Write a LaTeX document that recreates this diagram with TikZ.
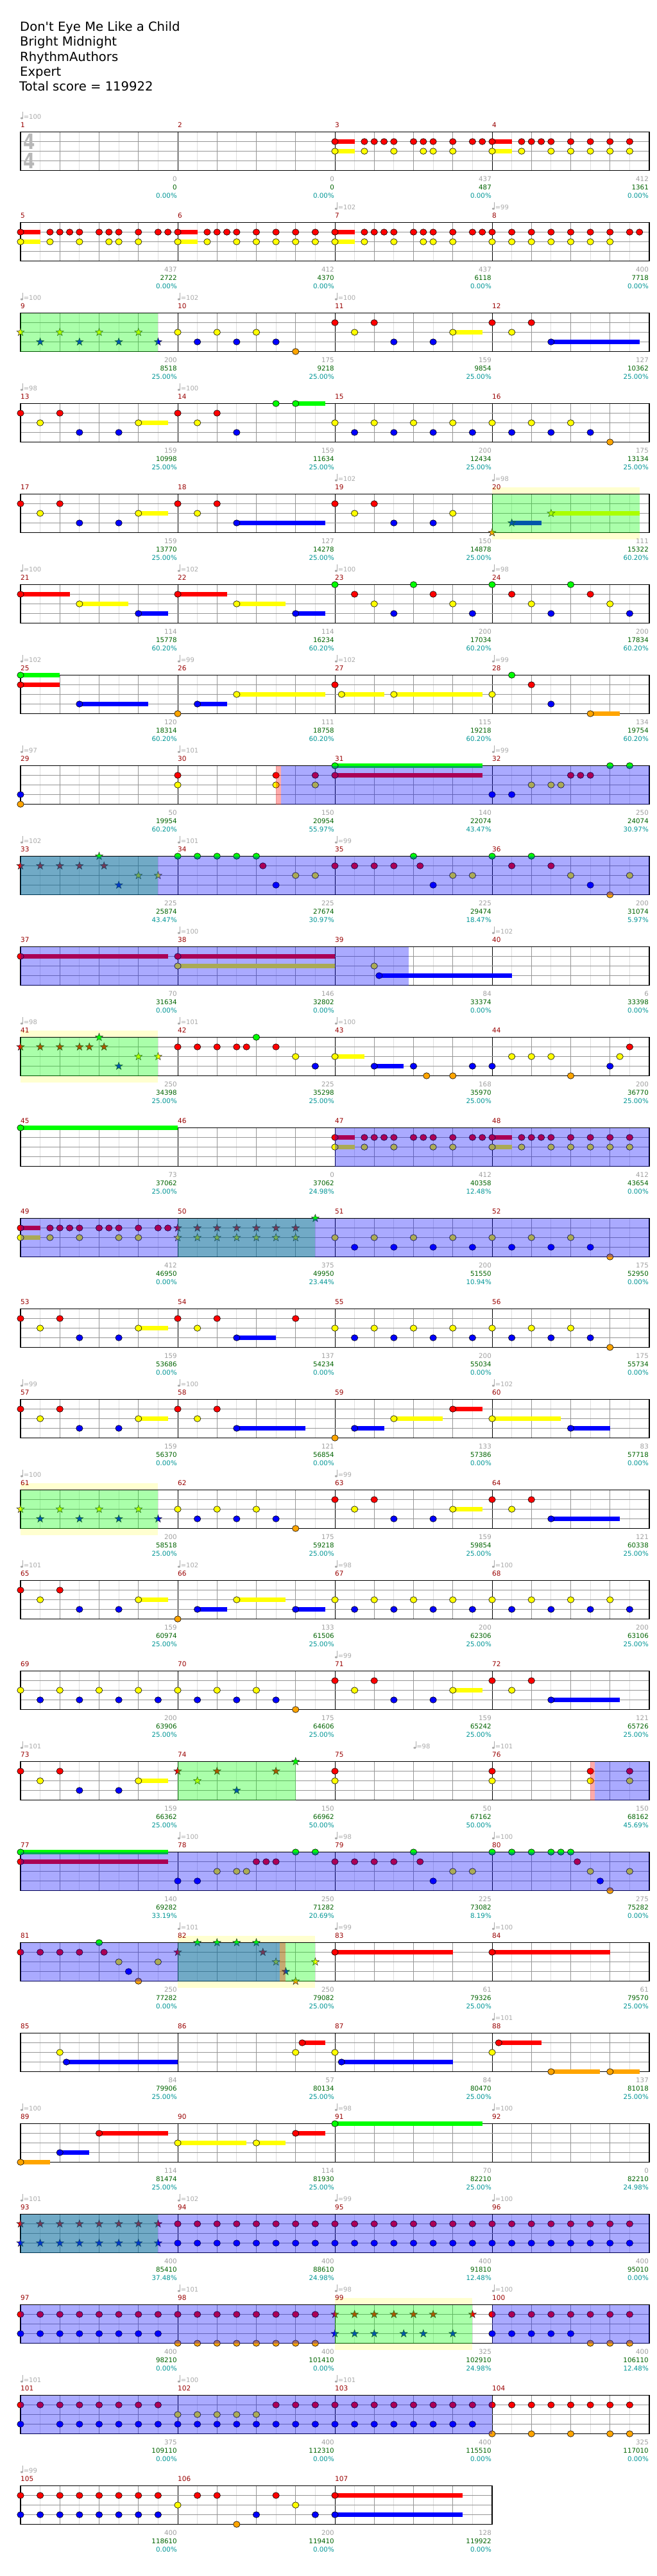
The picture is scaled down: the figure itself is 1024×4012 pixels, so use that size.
\documentclass[tikz,border=0pt]{standalone}
\usepackage{graphicx}
\usepackage{fontspec}
\setmainfont{DejaVu Sans}
\definecolor{gl}{RGB}{222,222,222}
\definecolor{gb}{RGB}{150,150,150}
\definecolor{lanec}{RGB}{150,150,150}
\definecolor{mred}{RGB}{153,0,0}
\definecolor{gnum}{RGB}{160,160,160}
\definecolor{scg}{RGB}{0,100,0}
\definecolor{pctc}{RGB}{0,150,150}
\definecolor{tempoc}{RGB}{170,170,170}
\definecolor{ybgc}{RGB}{255,255,208}
\definecolor{lane0}{RGB}{0,255,0}
\definecolor{lane1}{RGB}{255,0,0}
\definecolor{lane2}{RGB}{255,255,0}
\definecolor{lane3}{RGB}{0,0,255}
\definecolor{lane4}{RGB}{255,165,0}
\newcommand\setrow[1]{\pgfmathsetmacro\yt{205.5+141*#1}}
\newcommand\staffrow[1]{%
  \pgfmathsetmacro\xe{32+245*#1}%
  \fill[white] (32,\yt) rectangle (\xe,{\yt+60});
  \pgfmathtruncatemacro\nl{8*#1-1}%
  \foreach \i in {1,3,...,\nl} \draw[gridl] ({32+\i*30.625},\yt) -- ++(0,60);
  \pgfmathtruncatemacro\nb{4*#1-1}%
  \foreach \i in {1,...,\nb} \draw[gridb] ({32+\i*61.25},\yt) -- ++(0,60);
  \pgfmathtruncatemacro\nm{#1-1}%
  \foreach \i in {1,...,\nm} \draw[gridm] ({32+\i*245},\yt) -- ++(0,60);
  \foreach \l in {15,30,45} \draw[lanel] (32,{\yt+\l}) -- (\xe,{\yt+\l});
  \draw[border] (32,\yt) rectangle (\xe,{\yt+60});}
\newcommand\nts[2]{\foreach \p in {#2}{\filldraw[note, fill=lane#1] ({32+\p*15.3125},{\yt+15*#1}) ellipse[x radius=5.2, y radius=4.8];}}
\newcommand\sus[3]{\fill[lane#1] ({32+#2*15.3125},{\yt+15*#1-3.4}) rectangle ({32+#3*15.3125},{\yt+15*#1+3.4});}
\newcommand\stars[2]{\foreach \p in {#2}{\filldraw[starn, fill=lane#1, shift={({32+\p*15.3125},{\yt+15*#1})}] (0,-6.3) -- (1.5,-2.05) -- (6,-1.95) -- (2.4,0.78) -- (3.7,5.1) -- (0,2.5) -- (-3.7,5.1) -- (-2.4,0.78) -- (-6,-1.95) -- (-1.5,-2.05) -- cycle;}}
\newcommand\ovl[3]{\fill[#1, fill opacity=0.3333] ({32+#2*15.3125},\yt) rectangle ({32+#3*15.3125},{\yt+60});}
\newcommand\ybg[2]{\fill[ybgc] ({32+#1*15.3125},{\yt-10.5}) rectangle ({32+#2*15.3125},{\yt+70.5});}
\newcommand\tempo[3]{%
  \fill[tempoc] ({#1+1.9},{\yt-21.4}) ellipse[x radius=2.1, y radius=1.6];
  \draw[tempoc, line width=0.6] ({#1+3.7},{\yt-21.6}) -- ({#1+3.7},{\yt-31.5});
  \node[tp] (tp#3) at ({#1+4.6},{\yt-20.5}) {=#2};}
\newcommand\meas[6]{%
  \pgfmathsetmacro\xs{32+245*#1}%
  \pgfmathsetmacro\xf{32+245*(#1+1)-1}%
  \node[mn] (mn#2) at (\xs,{\yt-7.2}) {#2};
  \node[gv] (gv#2) at (\xf,{\yt+76.8}) {#3};
  \node[sc] (sc#2) at (\xf,{\yt+89.8}) {#4};
  \node[pc] (pc#2) at (\xf,{\yt+102.8}) {#5\%};
  \ifx\relax#6\relax\else\tempo{\xs}{#6}{#2}\fi}
\begin{document}
\begin{tikzpicture}[x=1pt,y=-1pt,
  gridl/.style={draw=gl, line width=1},
  gridb/.style={draw=gb, line width=1},
  gridm/.style={draw=black, line width=1},
  lanel/.style={draw=lanec, line width=1.2},
  border/.style={draw=black, line width=1.5},
  note/.style={draw=black, line width=0.6},
  starn/.style={draw=black!85, line width=0.5},
  ttl/.style={anchor=base west, inner sep=0, font=\fontsize{19.6}{23}\selectfont},
  mn/.style={anchor=base west, inner sep=0, text=mred, font=\fontsize{10.5}{12}\selectfont},
  gv/.style={anchor=base east, inner sep=0, text=gnum, font=\fontsize{10.3}{12}\selectfont},
  sc/.style={anchor=base east, inner sep=0, text=scg, font=\fontsize{10.3}{12}\selectfont},
  pc/.style={anchor=base east, inner sep=0, text=pctc, font=\fontsize{10.3}{12}\selectfont},
  tp/.style={anchor=base west, inner sep=0, text=tempoc, font=\fontsize{10}{12}\selectfont},
  tsig/.style={anchor=base west, inner sep=0, text=black!28, font=\fontsize{33}{33}\selectfont\bfseries}]
\useasboundingbox (0,0) rectangle (1024,4012);
\fill[white] (0,0) rectangle (1024,4012);
\node[ttl] (t1) at (31,48.7) {Don\textquotesingle t Eye Me Like a Child};
\node[ttl] (t2) at (31,71.9) {Bright Midnight};
\node[ttl] (t3) at (31,95.1) {RhythmAuthors};
\node[ttl] (t4) at (31,118.3) {Expert};
\node[ttl] (t5) at (30,141.5) {Total score = 119922};
% row 0
\setrow{0}\staffrow{4}
\node[tsig] (ts1) at (36,232.3) {\scalebox{0.8}[1]{4}};
\node[tsig] (ts2) at (36,262) {\scalebox{0.8}[1]{4}};
\sus{1}{32}{34}\sus{2}{32}{34}\sus{1}{48}{50}\sus{2}{48}{50}
\nts{1}{32,35,36,37,38,40,41,42,44,46,47,48,51,52,53,54,56,58,60,62}
\nts{2}{32,35,38,41,42,44,48,51,54,56,58,60,62}
\meas{0}{1}{0}{0}{0.00}{100}\meas{1}{2}{0}{0}{0.00}{}\meas{2}{3}{437}{487}{0.00}{}\meas{3}{4}{412}{1361}{0.00}{}
% row 1
\setrow{1}\staffrow{4}
\sus{1}{0}{2}\sus{2}{0}{2}\sus{1}{16}{18}\sus{2}{16}{18}\sus{1}{32}{34}\sus{2}{32}{34}
\nts{1}{0,3,4,5,6,8,9,10,12,14,15,16,19,20,21,22,24,26,28,30,32,35,36,37,38,40,41,42,44,46,47,48,50,52,54,56,58,60,62,63}
\nts{2}{0,3,6,9,10,12,16,19,22,24,26,28,30,32,35,38,41,42,44,48,50,52,54,56,58,60}
\meas{0}{5}{437}{2722}{0.00}{}\meas{1}{6}{412}{4370}{0.00}{}\meas{2}{7}{437}{6118}{0.00}{102}\meas{3}{8}{400}{7718}{0.00}{99}
% row 2
\setrow{2}\staffrow{4}
\sus{2}{44}{47}\sus{3}{54}{63}
\stars{2}{0,4,8,12}\stars{3}{2,6,10,14}
\nts{2}{16,20,24,34,44,50}\nts{3}{18,22,26,38,42,54}\nts{4}{28}\nts{1}{32,36,48,52}
\ovl{green}{0}{14}
\meas{0}{9}{200}{8518}{25.00}{100}\meas{1}{10}{175}{9218}{25.00}{102}\meas{2}{11}{159}{9854}{25.00}{100}\meas{3}{12}{127}{10362}{25.00}{}
% row 3
\setrow{3}\staffrow{4}
\sus{2}{12}{15}\sus{0}{28}{31}
\nts{1}{0,4,16,20}\nts{2}{2,12,18,32,36,40,44,48,52,56}\nts{3}{6,10,22,34,38,42,46,50,54,58}\nts{0}{26,28}\nts{4}{60}
\meas{0}{13}{159}{10998}{25.00}{98}\meas{1}{14}{159}{11634}{25.00}{100}\meas{2}{15}{200}{12434}{25.00}{}\meas{3}{16}{175}{13134}{25.00}{}
% row 4
\setrow{4}\ybg{48}{63}\staffrow{4}
\sus{2}{12}{15}\sus{3}{22}{31}\sus{3}{50}{53}\sus{2}{54}{63}
\nts{1}{0,4,16,20,32,36}\nts{2}{2,12,18,34,44}\nts{3}{6,10,22,38,42}
\stars{4}{48}\stars{3}{50}\stars{2}{54}
\ovl{green}{48}{63}
\meas{0}{17}{159}{13770}{25.00}{}\meas{1}{18}{127}{14278}{25.00}{}\meas{2}{19}{150}{14878}{25.00}{102}\meas{3}{20}{111}{15322}{60.20}{98}
% row 5
\setrow{5}\staffrow{4}
\sus{1}{0}{5}\sus{2}{6}{11}\sus{3}{12}{15}\sus{1}{16}{21}\sus{2}{22}{27}\sus{3}{28}{31}
\nts{1}{0,16,34,42,50,58}\nts{2}{6,22,36,44,52,60}\nts{3}{12,28,38,46,54,62}\nts{0}{32,40,48,56}
\meas{0}{21}{114}{15778}{60.20}{100}\meas{1}{22}{114}{16234}{60.20}{102}\meas{2}{23}{200}{17034}{60.20}{100}\meas{3}{24}{200}{17834}{60.20}{98}
% row 6
\setrow{6}\staffrow{4}
\sus{0}{0}{4}\sus{1}{0}{4}\sus{3}{6}{13}\sus{3}{18}{21}\sus{2}{22}{31}\sus{2}{32.67}{37}\sus{2}{38}{47}\sus{4}{58}{61}
\nts{0}{0,50}\nts{1}{0,32,52}\nts{3}{6,18,54}\nts{4}{16,58}\nts{2}{22,32.67,38,48}
\meas{0}{25}{120}{18314}{60.20}{102}\meas{1}{26}{111}{18758}{60.20}{99}\meas{2}{27}{115}{19218}{60.20}{102}\meas{3}{28}{134}{19754}{60.20}{99}
% row 7
\setrow{7}\staffrow{4}
\sus{0}{32}{47}\sus{1}{32}{47}
\nts{3}{0,48,50}\nts{4}{0}\nts{1}{16,26,30,32,56,57,58}\nts{2}{16,26,30,52,54,55}\nts{0}{32,60,62}
\ovl{red}{26}{26.5}\ovl{blue}{26.5}{64}
\meas{0}{29}{50}{19954}{60.20}{97}\meas{1}{30}{150}{20954}{55.97}{101}\meas{2}{31}{140}{22074}{43.47}{}\meas{3}{32}{250}{24074}{30.97}{99}
% row 8
\setrow{8}\staffrow{4}
\stars{1}{0,2,4,6,8.5}\stars{0}{8}\stars{3}{10}\stars{2}{12,14}
\nts{0}{16,18,20,22,24,40,48,52}\nts{1}{24.67,32,34,36,38,40.67,50,54}\nts{3}{26,42,58}\nts{2}{28,30,44,46,56,62}\nts{4}{60}
\ovl{green}{0}{14}\ovl{blue}{0}{64}
\meas{0}{33}{225}{25874}{43.47}{102}\meas{1}{34}{225}{27674}{30.97}{101}\meas{2}{35}{225}{29474}{18.47}{99}\meas{3}{36}{200}{31074}{5.97}{}
% row 9
\setrow{9}\staffrow{4}
\sus{1}{0}{15}\sus{1}{16}{32}\sus{2}{16}{32}\sus{3}{36.5}{50}
\nts{1}{0,16}\nts{2}{16,36}\nts{3}{36.5}
\ovl{blue}{0}{39.5}
\meas{0}{37}{70}{31634}{0.00}{}\meas{1}{38}{146}{32802}{0.00}{100}\meas{2}{39}{84}{33374}{0.00}{}\meas{3}{40}{6}{33398}{0.00}{102}
% row 10
\setrow{10}\ybg{0}{14}\staffrow{4}
\sus{2}{32}{35}\sus{3}{36}{39}
\stars{1}{0,2,4,6,7,8.5}\stars{0}{8}\stars{3}{10}\stars{2}{12,14}
\nts{1}{16,18,20,22,23,26,62}\nts{0}{24}\nts{2}{28,32,50,52,54,61}\nts{3}{30,36,40,46,48,60}\nts{4}{41.33,44,56}
\ovl{green}{0}{14}
\meas{0}{41}{250}{34398}{25.00}{98}\meas{1}{42}{225}{35298}{25.00}{101}\meas{2}{43}{168}{35970}{25.00}{100}\meas{3}{44}{200}{36770}{25.00}{}
% row 11
\setrow{11}\staffrow{4}
\sus{0}{0}{16}\nts{0}{0}
\sus{1}{32}{34}\sus{2}{32}{34}\sus{1}{48}{50}\sus{2}{48}{50}
\nts{1}{32,35,36,37,38,40,41,42,44,46,47,48,51,52,53,54,56,58,60,62}
\nts{2}{32,35,38,42,44,48,51,54,56,58,60,62}
\ovl{blue}{32}{64}
\meas{0}{45}{73}{37062}{25.00}{}\meas{1}{46}{0}{37062}{24.98}{}\meas{2}{47}{412}{40358}{12.48}{}\meas{3}{48}{412}{43654}{0.00}{}
% row 12
\setrow{12}\staffrow{4}
\sus{1}{0}{2}\sus{2}{0}{2}
\nts{1}{0,3,4,5,6,8,9,10,12,14,15}\nts{2}{0,3,6,10,12}
\stars{1}{16,18,...,28}\stars{2}{16,18,...,28}\stars{0}{30}
\nts{2}{32,36,...,56}\nts{3}{34,38,...,58}\nts{4}{60}
\ovl{green}{16}{30}\ovl{blue}{0}{64}
\meas{0}{49}{412}{46950}{0.00}{}\meas{1}{50}{375}{49950}{23.44}{}\meas{2}{51}{200}{51550}{10.94}{}\meas{3}{52}{175}{52950}{0.00}{}
% row 13
\setrow{13}\staffrow{4}
\sus{2}{12}{15}\sus{3}{22}{26}
\nts{1}{0,4,16,20,28}\nts{2}{2,12,18}\nts{2}{32,36,...,56}\nts{3}{6,10,22}\nts{3}{34,38,...,58}\nts{4}{60}
\meas{0}{53}{159}{53686}{0.00}{}\meas{1}{54}{137}{54234}{0.00}{}\meas{2}{55}{200}{55034}{0.00}{}\meas{3}{56}{175}{55734}{0.00}{}
% row 14
\setrow{14}\staffrow{4}
\sus{2}{12}{15}\sus{3}{22}{29}\sus{3}{34}{37}\sus{2}{38}{43}\sus{1}{44}{47}\sus{2}{48}{55}\sus{3}{56}{60}
\nts{1}{0,4,16,20,44}\nts{2}{2,12,18,38,48}\nts{3}{6,10,22,34,56}\nts{4}{32}
\meas{0}{57}{159}{56370}{0.00}{99}\meas{1}{58}{121}{56854}{0.00}{100}\meas{2}{59}{133}{57386}{0.00}{}\meas{3}{60}{83}{57718}{0.00}{102}
% row 15
\setrow{15}\ybg{0}{14}\staffrow{4}
\sus{2}{44}{47}\sus{3}{54}{61}
\stars{2}{0,4,8,12}\stars{3}{2,6,10,14}
\nts{2}{16,20,24,34,44,50}\nts{3}{18,22,26,38,42,54}\nts{4}{28}\nts{1}{32,36,48,52}
\ovl{green}{0}{14}
\meas{0}{61}{200}{58518}{25.00}{100}\meas{1}{62}{175}{59218}{25.00}{}\meas{2}{63}{159}{59854}{25.00}{99}\meas{3}{64}{121}{60338}{25.00}{}
% row 16
\setrow{16}\staffrow{4}
\sus{2}{12}{15}\sus{3}{18}{21}\sus{2}{22}{27}\sus{3}{28}{31}
\nts{1}{0,4}\nts{2}{2,12,22}\nts{2}{32,36,...,60}\nts{3}{6,10,18,28}\nts{3}{34,38,...,62}\nts{4}{16}
\meas{0}{65}{159}{60974}{25.00}{101}\meas{1}{66}{133}{61506}{25.00}{102}\meas{2}{67}{200}{62306}{25.00}{98}\meas{3}{68}{200}{63106}{25.00}{100}
% row 17
\setrow{17}\staffrow{4}
\sus{2}{44}{47}\sus{3}{54}{61}
\nts{2}{0,4,...,24}\nts{2}{34,44,50}\nts{3}{2,6,...,26}\nts{3}{38,42,54}\nts{4}{28}\nts{1}{32,36,48,52}
\meas{0}{69}{200}{63906}{25.00}{}\meas{1}{70}{175}{64606}{25.00}{}\meas{2}{71}{159}{65242}{25.00}{99}\meas{3}{72}{121}{65726}{25.00}{}
% row 18
\setrow{18}\staffrow{4}
\sus{2}{12}{15}
\nts{1}{0,4,32,48,58,62}\nts{2}{2,12,32,48,58,62}\nts{3}{6,10}
\stars{1}{16,20,26}\stars{2}{18}\stars{3}{22}\stars{0}{28}
\ovl{green}{16}{28}\ovl{red}{58}{58.45}\ovl{blue}{58.45}{64}
\meas{0}{73}{159}{66362}{25.00}{101}\meas{1}{74}{150}{66962}{50.00}{}\meas{2}{75}{50}{67162}{50.00}{}\meas{3}{76}{150}{68162}{45.69}{101}
\tempo{644.5}{98}{mid75}
% row 19
\setrow{19}\staffrow{4}
\sus{0}{0}{15}\sus{1}{0}{15}
\nts{0}{0,28,30,40,48,50,52,54,55,56}\nts{1}{0,24,25,26,32,34,36,38,40.67,56.67}\nts{2}{20,22,23,44,46,58,62}\nts{3}{16,18,42,59}\nts{4}{60}
\ovl{blue}{0}{64}
\meas{0}{77}{140}{69282}{33.19}{}\meas{1}{78}{250}{71282}{20.69}{100}\meas{2}{79}{225}{73082}{8.19}{98}\meas{3}{80}{275}{75282}{0.00}{100}
% row 20
\setrow{20}\ybg{16}{30}\staffrow{4}
\sus{1}{32}{44}\sus{1}{48}{60}
\nts{1}{0,2,4,6,8.5,32,48}\nts{0}{8}\nts{2}{10,14}\nts{3}{11}\nts{4}{12}
\stars{1}{16,24.67}\stars{0}{18,20,22,24}\stars{2}{26,30}\stars{3}{27}\stars{4}{28}
\ovl{green}{16}{30}\ovl{blue}{0}{26.4}\ovl{red}{26.4}{27}
\meas{0}{81}{250}{77282}{0.00}{}\meas{1}{82}{250}{79082}{25.00}{101}\meas{2}{83}{61}{79326}{25.00}{99}\meas{3}{84}{61}{79570}{25.00}{100}
% row 21
\setrow{21}\staffrow{4}
\sus{3}{4.67}{16}\sus{1}{28.67}{31}\sus{3}{32.67}{44}\sus{1}{48.67}{53}\sus{4}{54}{59}\sus{4}{60}{63}
\nts{2}{4,28,32,48}\nts{3}{4.67,32.67}\nts{1}{28.67,48.67}\nts{4}{54,60}
\meas{0}{85}{84}{79906}{25.00}{}\meas{1}{86}{57}{80134}{25.00}{}\meas{2}{87}{84}{80470}{25.00}{}\meas{3}{88}{137}{81018}{25.00}{101}
% row 22
\setrow{22}\staffrow{4}
\sus{4}{0}{3}\sus{3}{4}{7}\sus{1}{8}{15}\sus{2}{16}{23}\sus{2}{24}{27}\sus{1}{28}{31}\sus{0}{32}{47}
\nts{4}{0}\nts{3}{4}\nts{1}{8,28}\nts{2}{16,24}\nts{0}{32}
\meas{0}{89}{114}{81474}{25.00}{100}\meas{1}{90}{114}{81930}{25.00}{}\meas{2}{91}{70}{82210}{25.00}{98}\meas{3}{92}{0}{82210}{24.98}{100}
% row 23
\setrow{23}\staffrow{4}
\stars{1}{0,2,...,14}\stars{3}{0,2,...,14}\nts{1}{16,18,...,62}\nts{3}{16,18,...,62}
\ovl{green}{0}{14}\ovl{blue}{0}{64}
\meas{0}{93}{400}{85410}{37.48}{101}\meas{1}{94}{400}{88610}{24.98}{102}\meas{2}{95}{400}{91810}{12.48}{99}\meas{3}{96}{400}{95010}{0.00}{100}
% row 24
\setrow{24}\ybg{32}{46}\staffrow{4}
\nts{1}{0,2,...,30}\nts{1}{48,50,...,62}\nts{3}{0,2,...,14}\nts{3}{48,50,...,56}\nts{4}{16,18,...,30}\nts{4}{58,60,62}
\stars{1}{32,34,36,38,40,42,46}\stars{3}{32,34,36,39,41,44}
\ovl{green}{32}{46}\ovl{blue}{0}{32}\ovl{blue}{48}{64}
\meas{0}{97}{400}{98210}{0.00}{}\meas{1}{98}{400}{101410}{0.00}{101}\meas{2}{99}{325}{102910}{24.98}{98}\meas{3}{100}{400}{106110}{12.48}{100}
% row 25
\setrow{25}\staffrow{4}
\nts{1}{0,2,...,14}\nts{1}{26,28,...,62}\nts{3}{0}\nts{3}{4,6,...,46}\nts{2}{16,18,...,24}\nts{4}{48,52,56,60,62}
\ovl{blue}{0}{48}
\meas{0}{101}{375}{109110}{0.00}{101}\meas{1}{102}{400}{112310}{0.00}{100}\meas{2}{103}{400}{115510}{0.00}{101}\meas{3}{104}{325}{117010}{0.00}{}
% row 26
\setrow{26}\staffrow{3}
\sus{1}{32}{45}\sus{3}{32}{45}
\nts{1}{0,2,...,14}\nts{1}{18,20,26,32}\nts{3}{0,2,...,14}\nts{3}{24,30,32}\nts{2}{16,28}\nts{4}{22}
\meas{0}{105}{400}{118610}{0.00}{99}\meas{1}{106}{200}{119410}{0.00}{}\meas{2}{107}{128}{119922}{0.00}{}
\end{tikzpicture}
\end{document}
